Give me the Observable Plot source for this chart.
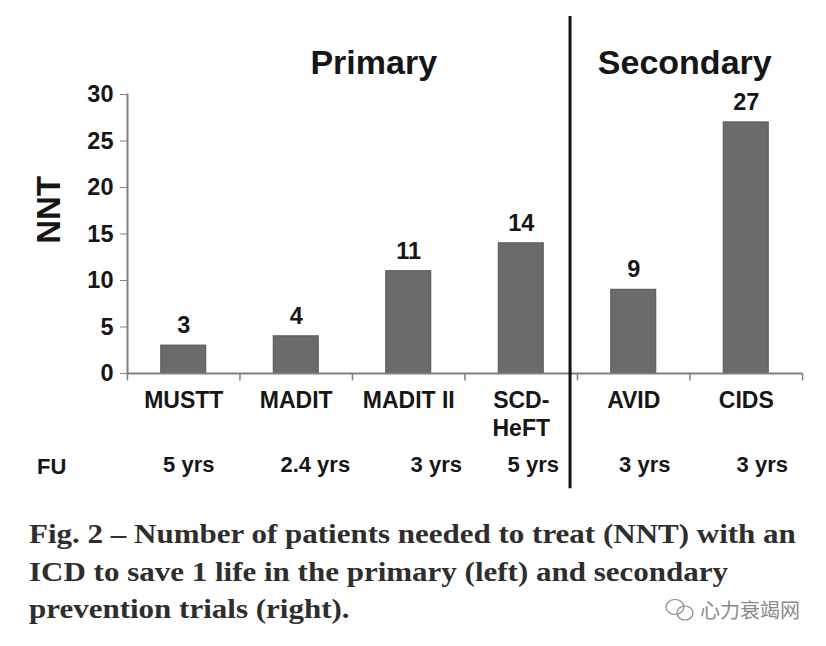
<!DOCTYPE html>
<html>
<head>
<meta charset="utf-8">
<script src="https://cdn.jsdelivr.net/npm/d3@7"></script>
<script src="https://cdn.jsdelivr.net/npm/@observablehq/plot@0.6"></script>
<style>
html,body{margin:0;padding:0;background:#fff;width:826px;height:646px;overflow:hidden}
#chart{position:absolute;left:0;top:0}
#caption{position:absolute;left:29px;top:515px;font-family:"Liberation Serif",serif;font-weight:700;font-size:28px;line-height:37.5px;color:#2e2e2e;white-space:nowrap;transform:scaleX(1.107);transform-origin:left top}
#mark{position:absolute;left:664px;top:595px;display:flex;align-items:center;gap:4px;color:#8a8a8a;font-family:"Noto Sans CJK SC";font-size:20px;line-height:28px}
</style>
</head>
<body>
<div id="chart"></div>
<div id="caption">Fig. 2 – Number of patients needed to treat (NNT) with an<br>ICD to save 1 life in the primary (left) and secondary<br>prevention trials (right).</div>
<div id="mark">
<svg width="32" height="30" viewBox="0 0 32 30" fill="none" stroke="#8a8a8a" stroke-width="1.2"><ellipse cx="11" cy="12" rx="9" ry="7.5"/><ellipse cx="21" cy="18" rx="8" ry="7"/></svg>
<span>心力衰竭网</span>
</div>
<script>
const trials = ["MUSTT", "MADIT", "MADIT II", "SCD-HeFT", "AVID", "CIDS"];
const trialLabels = ["MUSTT", "MADIT", "MADIT II", "SCD-\nHeFT", "AVID", "CIDS"];
const nnt = [3, 4, 11, 14, 9, 27];
const followUp = ["5 yrs", "2.4 yrs", "3 yrs", "5 yrs", "3 yrs", "3 yrs"];
const yTicks = [0, 5, 10, 15, 20, 25, 30];

const rows = trials.map((t, i) => ({trial: t, label: trialLabels[i], nnt: nnt[i], fu: followUp[i]}));
const ink = "#161616", axisGray = "#808080";
const fuNudge = [5, 19, 27.5, 12, 11, 16];

const fig = Plot.plot({
  width: 826, height: 490,
  marginLeft: 127, marginRight: 24, marginTop: 94, marginBottom: 117,
  style: {fontFamily: "'Liberation Sans', Arial, sans-serif", background: "#fff", overflow: "visible"},
  x: {domain: trials, paddingInner: 0.6, paddingOuter: 0.3, round: false, axis: null},
  y: {domain: [0, 30], ticks: yTicks, axis: null},
  marks: [
    Plot.barY(rows, {x: "trial", y: "nnt", fill: "#6b6b6b", stroke: "#555", strokeWidth: 1}),
    Plot.ruleY([0], {stroke: axisGray, strokeWidth: 2}),
    Plot.frame({anchor: "left", stroke: axisGray, strokeWidth: 2}),
    Plot.axisY({ticks: yTicks, tickSize: 7, tickPadding: 7, stroke: axisGray, fill: ink, fontSize: 23.5, fontWeight: 700, label: null}),
    Plot.ruleX(trials, {x: d => d, dx: -56.3, y1: 0, y2: -0.8, stroke: axisGray, strokeWidth: 1.5}),
    Plot.ruleX(["CIDS"], {x: d => d, dx: 56.3, y1: 0, y2: -0.8, stroke: axisGray, strokeWidth: 1.5}),
    Plot.text(rows, {x: "trial", y: "nnt", text: d => String(d.nnt), dy: -20, fill: ink, fontSize: 23.5, fontWeight: 700}),
    Plot.text(rows, {x: "trial", y: 0, text: "label", dy: 15, lineAnchor: "top", lineHeight: 1.22, fill: ink, fontSize: 23, fontWeight: 700}),
    ...rows.map((r, i) => Plot.text([r], {x: "trial", y: -9.8, text: "fu", dx: fuNudge[i], fill: ink, fontSize: 22, fontWeight: 700})),
    Plot.text(["FU"], {x: () => "MUSTT", y: -10, text: d => d, dx: -132, fill: ink, fontSize: 22, fontWeight: 700}),
    Plot.text(["NNT"], {x: () => "MUSTT", y: 17.6, text: d => d, dx: -134, rotate: -90, fill: ink, fontSize: 33, fontWeight: 700}),
    Plot.text(["Primary"], {x: () => "MADIT II", y: 33.4, text: d => d, dx: -35, fill: ink, fontSize: 34, fontWeight: 700}),
    Plot.text(["Secondary"], {x: () => "AVID", y: 33.4, text: d => d, dx: 51, fill: ink, fontSize: 34, fontWeight: 700}),
    Plot.ruleX(["AVID"], {x: d => d, dx: -63.7, y1: -12.4, y2: 38.4, stroke: "#111", strokeWidth: 3})
  ]
});
document.getElementById("chart").append(fig);
</script>
</body>
</html>
